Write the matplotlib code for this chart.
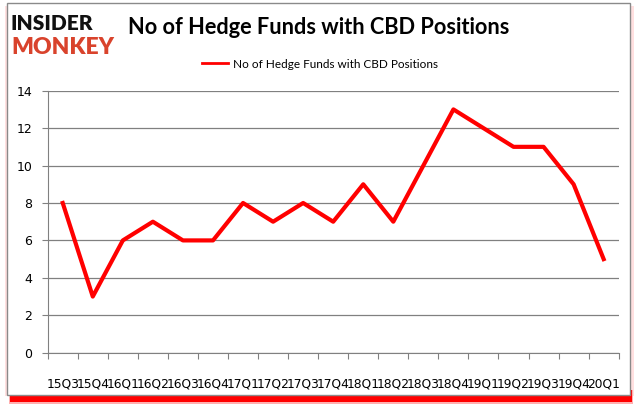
import matplotlib
matplotlib.use("Agg")
import matplotlib.pyplot as plt
from matplotlib.patches import Rectangle

quarters = ["15Q3", "15Q4", "16Q1", "16Q2", "16Q3", "16Q4", "17Q1", "17Q2", "17Q3", "17Q4",
            "18Q1", "18Q2", "18Q3", "18Q4", "19Q1", "19Q2", "19Q3", "19Q4", "20Q1"]
funds = [8, 3, 6, 7, 6, 6, 8, 7, 8, 7, 9, 7, 10, 13, 12, 11, 11, 9, 5]
yticks = [0, 2, 4, 6, 8, 10, 12, 14]

W, H = 637, 408
fig = plt.figure(figsize=(W / 100, H / 100), dpi=100)
fig.patch.set_facecolor("white")


def rect(x0, y0, x1, y1, **kw):
    """Rectangle given in image pixel coords (top-left origin)."""
    fig.patches.append(Rectangle((x0 / W, 1 - y1 / H), (x1 - x0) / W, (y1 - y0) / H,
                                 transform=fig.transFigure, **kw))


# soft red shadow (bottom), faint pink at the sides
rect(5, 6, 634, 396, facecolor="#ffe0e0", edgecolor="none", zorder=0.1)
rect(9, 390, 633, 404, facecolor="#ffb0b0", edgecolor="none", zorder=0.2)
rect(10, 390, 632, 402, facecolor="#ff0000", edgecolor="none", zorder=0.3)
rect(7, 3, 630, 395, facecolor="white", edgecolor="#8a8a8a", linewidth=1, zorder=1)

ax = fig.add_axes([47.7 / W, (H - 352.7) / H, 571 / W, 262 / H])
ax.set_zorder(2)
x = list(range(len(quarters)))
ax.plot(x, funds, color="#ff0000", linewidth=3, solid_joinstyle="round",
        label="No of Hedge Funds with CBD Positions")
ax.set_xlim(-0.5, len(quarters) - 0.5)
ax.set_ylim(0, 14)
ax.set_yticks(yticks)
ax.set_yticklabels([str(v) for v in yticks], fontsize=9, family="DejaVu Sans")
ax.set_xticks([i - 0.5 for i in range(len(quarters) + 1)], minor=False)
ax.set_xticklabels([])
ax.set_xticks(x, minor=True)
ax.set_xticklabels(quarters, minor=True, fontsize=8.8, family="DejaVu Sans")
ax.tick_params(axis="x", which="minor", length=0, pad=18)
ax.tick_params(axis="x", which="major", length=4, color="#808080", direction="out")
ax.tick_params(axis="y", length=4, color="#808080", pad=7)
ax.grid(axis="y", color="#808080", linewidth=0.9)
ax.set_axisbelow(True)
for s in ["top", "right"]:
    ax.spines[s].set_visible(False)
for s in ["left", "bottom"]:
    ax.spines[s].set_color("#808080")
ax.patch.set_alpha(0)

handles, labels = ax.get_legend_handles_labels()
leg = fig.legend(handles, labels, loc="center", bbox_to_anchor=(320 / W, 1 - 64 / H),
                 frameon=False, prop={"family": "Lato", "size": 8.5}, handlelength=2.2,
                 handletextpad=0.4)
for h in leg.get_lines():
    h.set_linewidth(2)

fig.text(128 / W, 1 - 28 / H, "No of Hedge Funds with CBD Positions", ha="left", va="center",
         fontsize=15.7, fontweight="bold", family="Lato", color="black")
fig.text(11 / W, 1 - 24 / H, "INSIDER", ha="left", va="center", fontsize=15,
         fontweight="heavy", family="Lato", color="#111111")
fig.text(11 / W, 1 - 48 / H, "MONKEY", ha="left", va="center", fontsize=16.5,
         fontweight="heavy", family="Lato", color="#d9432c")

fig.savefig("out.png", dpi=100, facecolor="white")
